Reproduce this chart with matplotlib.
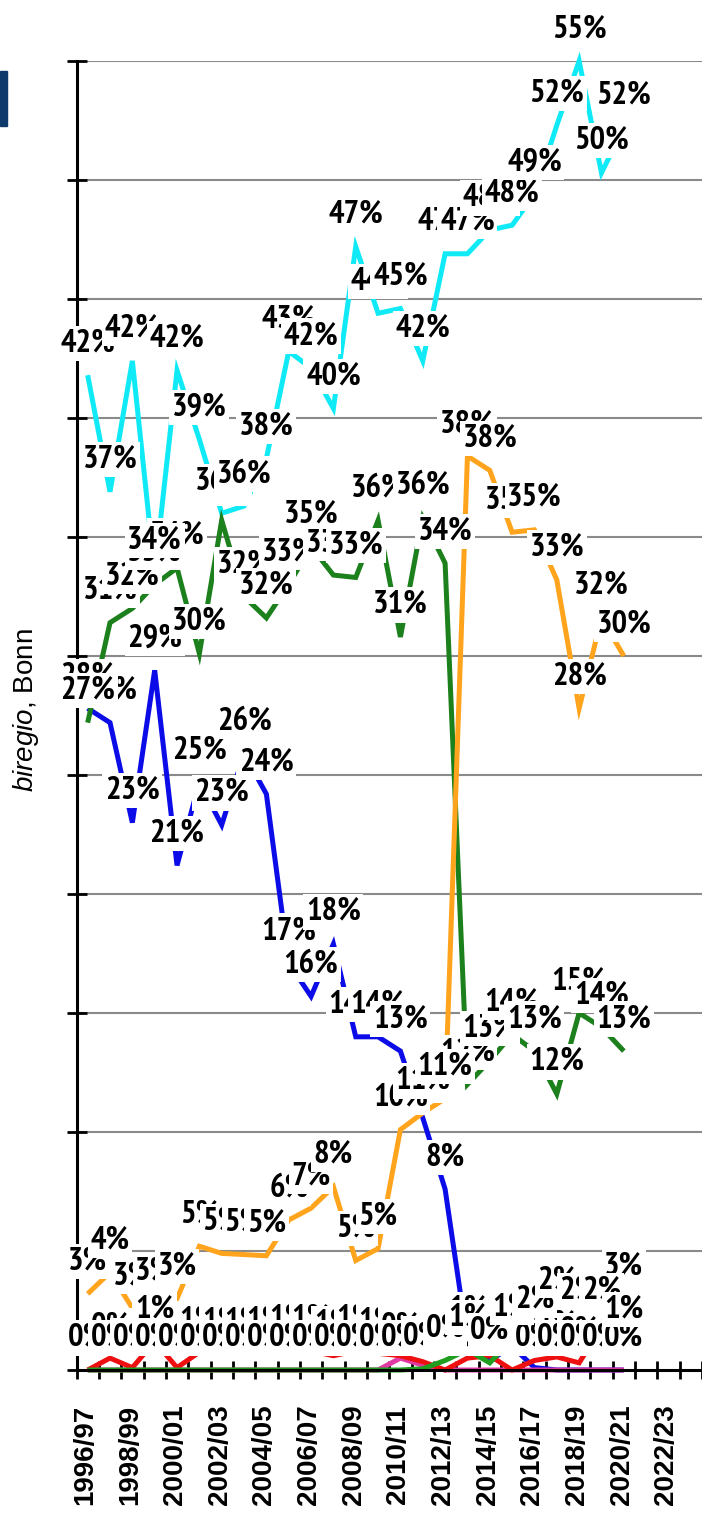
import numpy as np
import matplotlib
matplotlib.use("Agg")
import matplotlib.pyplot as plt
from matplotlib import font_manager as fm
from matplotlib.transforms import ScaledTranslation
from matplotlib.patches import Rectangle

# ---------------- data ----------------
categories = ["1996/97", "1997/98", "1998/99", "1999/00", "2000/01", "2001/02", "2002/03",
              "2003/04", "2004/05", "2005/06", "2006/07", "2007/08", "2008/09", "2009/10",
              "2010/11", "2011/12", "2012/13", "2013/14", "2014/15", "2015/16", "2016/17",
              "2017/18", "2018/19", "2019/20", "2020/21", "2021/22", "2022/23", "2023/24"]
tick_labels = ["1996/97", "1998/99", "2000/01", "2002/03", "2004/05", "2006/07", "2008/09",
               "2010/11", "2012/13", "2014/15", "2016/17", "2018/19", "2020/21", "2022/23"]

cyan_vals = [41.8, 36.9, 42.4, 33.5, 42.0, 39.1, 36.0, 36.3, 38.3, 42.8, 42.1, 40.4, 47.2,
             44.4, 44.6, 42.4, 46.9, 46.9, 47.9, 48.1, 49.4, 52.3, 55.0, 50.3, 52.2]
blue_vals = [27.8, 27.2, 23.0, 29.4, 21.2, 24.7, 22.9, 25.9, 24.2, 17.1, 15.7, 17.9, 14.0,
             14.0, 13.4, 10.6, 7.6, 1.2, 0.4, 1.0, 0.1, 0.0, 0.0, 0.0, 0.0]
green_vals = [27.2, 31.4, 32.0, 33.0, 33.7, 30.1, 35.7, 32.5, 31.6, 33.0, 34.6, 33.4, 33.3,
              35.7, 30.8, 35.8, 33.9, 12.0, 13.0, 14.1, 13.4, 11.6, 15.0, 14.4, 13.4]
orange_vals = [3.2, 4.1, 2.6, 2.8, 3.0, 5.2, 4.9, 4.85, 4.8, 6.3, 6.8, 7.7, 4.6, 5.1, 10.1,
               10.8, 11.4, 38.4, 37.8, 35.2, 35.3, 33.2, 27.8, 31.6, 30.0]
red_vals = [0.0, 0.5, 0.1, 1.2, 0.1, 0.75, 0.7, 0.7, 0.75, 0.8, 0.8, 0.6, 0.8, 0.7, 0.6,
            0.35, 0.0, 0.5, 0.6, 0.0, 0.4, 0.55, 0.3, 1.8, 3.0]
pink_vals = [0.0, 0.0, 0.0, 0.0, 0.0, 0.0, 0.0, 0.0, 0.0, 0.0, 0.0, 0.0, 0.0, 0.0, 0.5,
             0.2, 0.0, 0.0, 0.0, 0.0, 0.0, 0.0, 0.0, 0.0, 0.0]
green2_vals = [0.0, 0.0, 0.0, 0.0, 0.0, 0.0, 0.0, 0.0, 0.0, 0.0, 0.0, 0.0, 0.0, 0.0, 0.0,
               0.05, 0.4, 0.85, 0.3, 1.3, 1.6, 2.4, 2.0, 2.0, 1.2]

# ---------------- fonts ----------------
names = {f.name for f in fm.fontManager.ttflist}
LBL_FONT, LBL_SIZE = "Liberation Sans", 19.5
for cand, size in [("Liberation Sans Narrow", 23), ("PT Sans Narrow", 23.5),
                   ("Fira Sans Condensed", 22), ("Asap Condensed", 23)]:
    if cand in names:
        LBL_FONT, LBL_SIZE = cand, size
        break
AX_FONT = "Liberation Sans"
bold_file = None
for f in fm.fontManager.ttflist:
    if f.name == AX_FONT and f.style == "normal" and str(f.weight) in ("700", "bold"):
        bold_file = f.fname
        break
if bold_file:
    TICK_FP = fm.FontProperties(fname=bold_file, size=20)
else:
    TICK_FP = fm.FontProperties(family=AX_FONT, weight="bold", size=20)

plt.rcParams["font.family"] = [AX_FONT, "DejaVu Sans"]
plt.rcParams["mathtext.fontset"] = "custom"
plt.rcParams["mathtext.it"] = "Liberation Sans:italic"
plt.rcParams["mathtext.rm"] = "Liberation Sans"

W, H = 702, 1514
fig = plt.figure(figsize=(W / 100, H / 100), dpi=100)
x0_px, x_end_px, y0_px, y55_px = 76.5, 702, 1370, 61
ax = fig.add_axes([x0_px / W, (H - y0_px) / H, (x_end_px - x0_px) / W, (y0_px - y55_px) / H])

step = 22.56
ax.set_xlim(-0.5, -0.5 + (x_end_px - x0_px) / step)
ax.set_ylim(0, 55)

# grid
for v in range(5, 56, 5):
    ax.axhline(v, color="#8a8a8a", lw=1.5, zorder=1)

for s in ["top", "right"]:
    ax.spines[s].set_visible(False)
ax.spines["left"].set_linewidth(2.2)
ax.spines["bottom"].set_linewidth(2.2)
ax.spines["left"].set_zorder(1.5)

ax.set_yticks(np.arange(0, 56, 5))
ax.set_yticklabels([])
ax.tick_params(axis="y", direction="inout", length=14.5, width=2, colors="black")

ax.set_xticks(np.arange(-0.5, 28, 1))
ax.set_xticklabels([])
ax.tick_params(axis="x", which="major", direction="inout", length=13, width=2)
lab_pos = [categories.index(t) for t in tick_labels]
ax.set_xticks(lab_pos, minor=True)
ax.set_xticklabels(tick_labels, minor=True, rotation=90, fontproperties=TICK_FP,
                   ha="center", va="top")
ax.tick_params(axis="x", which="minor", length=0, pad=25)
for lbl in ax.get_xticklabels(minor=True):
    lbl.set_fontproperties(TICK_FP)
    lbl.set_transform(lbl.get_transform() + ScaledTranslation(-2 / 100, 0, fig.dpi_scale_trans))

series = [
    (blue_vals, "#0c0ce8"),
    (cyan_vals, "#10eaf6"),
    (green_vals, "#1c801c"),
    (orange_vals, "#ffa41c"),
    (pink_vals, "#e23aa4"),
    (red_vals, "#ee1010"),
    (green2_vals, "#1f9e1f"),
]
label_order = [0, 2, 3, 5, 4, 6, 1]

for k, (vals, col) in enumerate(series):
    xs = np.arange(len(vals))
    ax.plot(xs, vals, color=col, lw=3.6, zorder=2 + 0.01 * k, clip_on=False,
            solid_joinstyle="miter", solid_capstyle="butt")

z = 3.0
for k in label_order:
    vals, col = series[k]
    for i, v in enumerate(vals):
        z += 0.001
        ax.annotate(f"{v:.0f}%", xy=(i, v), xytext=(0, 32), textcoords="offset pixels",
                    ha="center", va="center", fontsize=LBL_SIZE, fontweight="bold",
                    family=LBL_FONT, color="black", annotation_clip=False, zorder=z,
                    bbox=dict(boxstyle="square,pad=0.08", fc="white", ec="none"))

# y label (italic biregio)
fig.text(26 / W, 1 - 710 / H, r"$\mathit{biregio}$, Bonn", rotation=90, ha="center",
         va="center", fontsize=20, family=AX_FONT)

# dark blue marker at the top left
fig.patches.append(Rectangle((0, 1 - 126 / H), 7 / W, 55 / H, transform=fig.transFigure,
                             color="#0e3a6b", zorder=5))

fig.savefig("out.png", dpi=100)
